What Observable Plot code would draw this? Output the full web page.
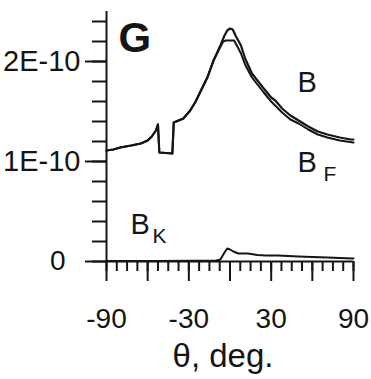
<!DOCTYPE html>
<html><head><meta charset="utf-8">
<script src="https://cdn.jsdelivr.net/npm/d3@7"></script>
<script src="https://cdn.jsdelivr.net/npm/@observablehq/plot@0.6"></script>
<style>body{margin:0;background:#fff}svg{display:block}</style>
</head><body><div id="chart"></div>
<script>
// values in units of 1E-10
const thetaB = [-90,-85,-80,-72,-65,-60,-57,-54,-52.5,-51.5,-42,-41,-37.5,-34,-29,-25,-21.5,-16.5,-12,-7,-4,-2,0,2,4,8,11,16,20,24,30,33,38,44,50,57,64,71,80,88,90];
const valB   = [1.11,1.12,1.14,1.16,1.18,1.21,1.25,1.31,1.37,1.09,1.08,1.39,1.41,1.43,1.51,1.60,1.70,1.84,2.01,2.16,2.26,2.31,2.33,2.32,2.26,2.16,2.03,1.88,1.81,1.74,1.64,1.61,1.53,1.46,1.41,1.35,1.30,1.27,1.24,1.22,1.22];
const thetaBF = [-90,-85,-80,-72,-65,-60,-57,-54,-52.5,-51.5,-42,-41,-37.5,-34,-29,-25,-21.5,-16.5,-12,-8,-5,-3,0,3,5,8,11,16,20,24,30,38,44,50,57,64,71,80,90];
const valBF   = [1.11,1.12,1.14,1.16,1.18,1.21,1.25,1.31,1.37,1.09,1.08,1.39,1.41,1.43,1.51,1.60,1.70,1.84,2.01,2.12,2.20,2.21,2.21,2.21,2.16,2.08,1.97,1.84,1.77,1.70,1.60,1.49,1.42,1.38,1.32,1.27,1.24,1.21,1.19];
const thetaBK = [-90,-50,-10,-7,-4,-2,0,2.5,6,13,20,26,35,50,60,71,80,90];
const valBK   = [0.005,0.005,0.01,0.02,0.09,0.13,0.12,0.10,0.08,0.08,0.065,0.06,0.06,0.05,0.045,0.04,0.035,0.03];

const xTickLabelVals = [-90,-30,30,90];
const xTickLabels = ["-90","-30","30","90"];
const xMajor = [-90,-60,-30,0,30,60,90];
const xMinor = d3.range(-90, 90.01, 7.5);
const yMajor = [0,1,2];
const yTickLabelVals = [1,2];
const yTickLabels = ["1E-10","2E-10"];
const yZeroVal = [0];
const yZeroLabel = ["0"];
const yMinor = d3.range(0, 2.41, 0.2);
const xTitle = ["θ, deg."];

const labelsMain = [{t:"B", x:49.2, y:1.79},{t:"B", x:49.2, y:0.985},{t:"B", x:-72.5, y:0.37}];
const labelsSub = [{t:"F", x:68.2, y:0.87},{t:"K", x:-56.5, y:0.25}];
const panel = [{t:"G", x:-81.3, y:2.23}];

const toRows = (xs, ys) => xs.map((x, i) => ({x, y: ys[i]}));
const xMap = new Map(xTickLabelVals.map((v,i)=>[v,xTickLabels[i]]));
const yMap = new Map(yTickLabelVals.map((v,i)=>[v,yTickLabels[i]]));
const zMap = new Map(yZeroVal.map((v,i)=>[v,yZeroLabel[i]]));
const ink = "#151515";

const chart = Plot.plot({
  width: 371, height: 379,
  marginLeft: 106, marginRight: 18, marginTop: 11, marginBottom: 118,
  style: {fontFamily: "'Liberation Sans', Arial, sans-serif", background: "#fff", color: ink},
  x: {domain: [-90, 90]},
  y: {domain: [0, 2.5]},
  marks: [
    Plot.axisX(xMinor, {tickSize: 10, strokeWidth: 2, tickFormat: () => "", stroke: ink, label: null}),
    Plot.axisX(xMajor, {tickSize: 20, strokeWidth: 2, tickFormat: () => "", stroke: ink, label: null}),
    Plot.axisX(xTickLabelVals, {tickSize: 0, tickPadding: 47, fontSize: 28, tickFormat: d => xMap.get(d), label: null, fill: ink}),
    Plot.axisY(yMinor, {tickSize: 14, strokeWidth: 2, tickFormat: () => "", stroke: ink, label: null}),
    Plot.axisY(yMajor, {tickSize: 21, strokeWidth: 2, tickFormat: () => "", stroke: ink, label: null}),
    Plot.axisY(yTickLabelVals, {tickSize: 0, tickPadding: 26, fontSize: 29, tickFormat: d => yMap.get(d), label: null, fill: ink}),
    Plot.axisY(yZeroVal, {tickSize: 0, tickPadding: 41, fontSize: 28, tickFormat: d => zMap.get(d), label: null, fill: ink}),
    Plot.text(xTitle, {frameAnchor: "bottom", dy: 95, dx: -7, lineAnchor: "middle", fontSize: 33, fill: ink}),
    Plot.ruleX([-90], {stroke: ink, strokeWidth: 2}),
    Plot.ruleY([0], {stroke: ink, strokeWidth: 2}),
    Plot.line(toRows(thetaBK, valBK), {x: "x", y: "y", stroke: ink, strokeWidth: 2}),
    Plot.line(toRows(thetaBF, valBF), {x: "x", y: "y", stroke: ink, strokeWidth: 2}),
    Plot.line(toRows(thetaB, valB), {x: "x", y: "y", stroke: ink, strokeWidth: 2.2}),
    Plot.text(labelsMain, {x: "x", y: "y", text: "t", textAnchor: "start", fontSize: 29, fill: ink}),
    Plot.text(labelsSub, {x: "x", y: "y", text: "t", textAnchor: "start", fontSize: 21, fill: ink}),
    Plot.text(panel, {x: "x", y: "y", text: "t", textAnchor: "start", fontSize: 42, fontWeight: "bold", fill: ink})
  ]
});
document.getElementById("chart").append(chart);
</script>
</body></html>
